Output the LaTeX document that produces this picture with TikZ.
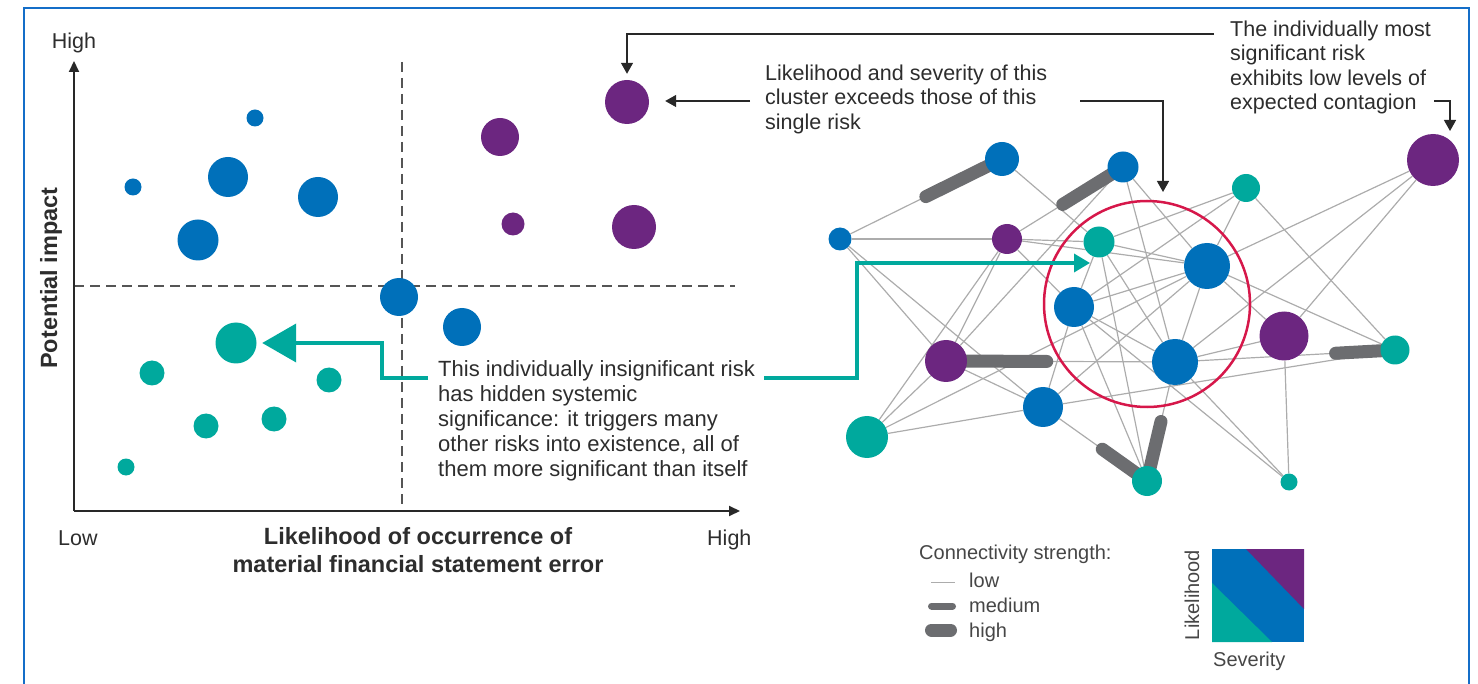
\documentclass[tikz,border=0pt]{standalone}
\usepackage{fontspec}
\setmainfont{Liberation Sans}
\usetikzlibrary{arrows.meta,calc}
\pgfdeclarelayer{bg}
\pgfsetlayers{bg,main}
\definecolor{nblue}{RGB}{0,112,186}
\definecolor{npurple}{RGB}{108,38,128}
\definecolor{nteal}{RGB}{0,169,157}
\definecolor{edgegray}{RGB}{172,172,172}
\definecolor{thickgray}{RGB}{108,109,112}
\definecolor{txtc}{RGB}{45,45,45}
\definecolor{legc}{RGB}{70,70,70}
\definecolor{arrowc}{RGB}{40,40,40}
\definecolor{framec}{RGB}{20,110,200}
\definecolor{ringc}{RGB}{214,23,74}
\definecolor{dashc}{RGB}{85,85,85}
\begin{document}
\begin{tikzpicture}[x=1pt,y=-1pt,
  nd/.style={circle,inner sep=0pt,minimum size=#1},
  cb/.style={nd=#1,fill=nblue},
  cp/.style={nd=#1,fill=npurple},
  ct/.style={nd=#1,fill=nteal},
  lowedge/.style={draw=edgegray,line width=1.2pt},
  highedge/.style={draw=thickgray,line width=13pt,line cap=round},
  medline/.style={draw=thickgray,line width=7pt,line cap=round},
  lbl/.style={font=\fontsize{21.5}{24.5}\selectfont,text=txtc,inner sep=0pt,align=left},
  notefont/.style={font=\fontsize{22}{25}\selectfont,text=txtc,inner sep=0pt,align=left},
  blbl/.style={font=\fontsize{23.5}{28}\selectfont\bfseries,text=txtc,inner sep=0pt},
  leg/.style={font=\fontsize{20}{24}\selectfont,text=legc,inner sep=0pt},
  axisline/.style={draw=arrowc,line width=2pt,-{Triangle[length=11pt,width=10pt]}},
  dashln/.style={draw=dashc,line width=1.5pt,dash pattern=on 10pt off 6pt},
  blackarrow/.style={draw=arrowc,line width=1.4pt,-{Triangle[length=11pt,width=12pt]}},
  tealline/.style={draw=nteal,line width=4pt}
]
\useasboundingbox (0,0) rectangle (1478,684);
% frame
\draw[framec,line width=2pt] (24,684) -- (24,8) -- (1469,8) -- (1469,684);

% ---------------- left chart ----------------
\coordinate (O) at (74,511);
\coordinate (Ytop) at (74,61);
\coordinate (Xend) at (740,511);
\coordinate (v1) at (402,62);
\coordinate (v2) at (402,511);
\coordinate (h1) at (74,286);
\coordinate (h2) at (735,286);
\draw[dashln] (v1) -- (v2);
\draw[dashln] (h1) -- (h2);
\draw[axisline] (O) -- (Ytop);
\draw[axisline] (O) -- (Xend);

\node[lbl,anchor=base] (yhigh) at (74,49) {High};
\node[lbl,anchor=base west] (xlow) at (58,545) {Low};
\node[lbl,anchor=base west] (xhigh) at (707,545) {High};
\node[blbl,anchor=north,align=center] (xlab) at (418,527) {Likelihood of occurrence of\\material financial statement error};
\node[blbl,anchor=base,rotate=90] (ylab) at (57,278) {Potential impact};

\node[cb=17pt] (b1) at (255,118) {};
\node[cb=17pt] (b2) at (133,187) {};
\node[cb=40pt] (b3) at (228,177) {};
\node[cb=40pt] (b4) at (318,197) {};
\node[cb=41pt] (b5) at (198,240) {};
\node[cb=38pt] (b6) at (399,297) {};
\node[cb=38pt] (b7) at (462,327) {};
\node[cp=44pt] (pA) at (627,102) {};
\node[cp=38pt] (p2) at (500,137) {};
\node[cp=23pt] (p3) at (513,224) {};
\node[cp=44pt] (p4) at (634,227) {};
\node[ct=41pt] (t1) at (236,343) {};
\node[ct=25pt] (t2) at (152,373) {};
\node[ct=25pt] (t3) at (329,380) {};
\node[ct=25pt] (t4) at (206,426) {};
\node[ct=25pt] (t5) at (274,419) {};
\node[ct=17pt] (t6) at (126,467) {};

\node[notefont,anchor=north west] (note) at (438,360) {This individually insignificant risk\\has hidden systemic\\significance: it triggers many\\other risks into existence, all of\\them more significant than itself};

\coordinate (ta) at (428,378);
\draw[tealline,-{Triangle[length=34pt,width=38pt]},shorten >=5.5pt] (ta) -- (382,378) |- (t1.east);

% ---------------- network ----------------
\node[cb=34pt] (A) at (1002,159) {};
\node[cb=31pt] (B) at (1123,167) {};
\node[cb=23pt] (C) at (840,239) {};
\node[cp=30pt] (D) at (1007,239) {};
\node[ct=31pt] (E) at (1099,242) {};
\node[cb=46pt] (F) at (1207,266) {};
\node[cb=40pt] (G) at (1074,307) {};
\node[cp=42pt] (H) at (946,361) {};
\node[cb=46pt] (I) at (1175,362) {};
\node[cb=40pt] (J) at (1043,407) {};
\node[ct=42pt] (K) at (867,437) {};
\node[ct=30pt] (L) at (1147,481) {};
\node[ct=28pt] (M) at (1246,188) {};
\node[cp=52pt] (P) at (1433,160) {};
\node[cp=49pt] (Q) at (1284,336) {};
\node[ct=29pt] (R) at (1395,350) {};
\node[ct=17pt] (S) at (1289,482) {};

\begin{pgfonlayer}{bg}
\foreach \a/\b in {C/A,C/D,C/H,C/J,A/E,B/D,B/F,B/I,B/H,D/E,D/F,D/H,D/K,D/G,
  E/M,E/F,E/G,E/I,E/L,M/G,M/F,M/R,F/I,F/R,F/Q,F/P,F/K,F/J,G/F,G/J,G/L,G/I,G/S,
  H/I,H/J,H/K,I/Q,I/R,I/P,I/S,I/L,J/K,J/R,J/L,Q/P,Q/S}
  \draw[lowedge] (\a) -- (\b);
\draw[highedge] (A.center) -- ($(A)!0.47!(C)$);
\draw[highedge] (B.center) -- ($(B)!0.52!(D)$);
\draw[highedge] (H.center) -- ($(H)!0.44!(I)$);
\draw[highedge] (R.center) -- ($(R)!0.27!(I)$);
\draw[highedge] (L.center) -- ($(L)!0.43!(J)$);
\draw[highedge] (L.center) -- ($(L)!0.5!(I)$);
\node[draw=ringc,line width=2.5pt,circle,inner sep=0pt,minimum size=206pt] (ring) at (1147,304) {};
\end{pgfonlayer}

\coordinate (tb) at (764,378);
\coordinate (tc) at (1090,263);
\draw[tealline,line width=3.5pt,-{Triangle[length=16pt,width=18pt]}] (tb) -- (857,378) |- (tc);

% ---------------- annotations ----------------
\node[lbl,anchor=north west] (cl) at (765,64.6) {Likelihood and severity of this\\cluster exceeds those of this\\single risk};
\node[lbl,anchor=north west] (ms) at (1230,20.6) {The individually most\\significant risk\\exhibits low levels of\\expected contagion};

\coordinate (s1) at (1214,34);
\draw[blackarrow,shorten >=6pt] (s1) -| (pA.north);
\coordinate (s2) at (750,101);
\draw[blackarrow,shorten >=16pt] (s2) -- (pA.east|-s2);
\coordinate (s3) at (1080,101);
\coordinate (e3) at (1163,192);
\draw[blackarrow] (s3) -| (e3);
\coordinate (s4) at (1434,101);
\coordinate (e4) at (1450,131);
\draw[blackarrow] (s4) -| (e4);

% ---------------- legend ----------------
\node[leg,anchor=base west] (cs) at (919,559) {Connectivity strength:};
\coordinate (l1a) at (931,582);
\coordinate (l1b) at (955,582);
\draw[lowedge,line width=1pt] (l1a) -- (l1b);
\node[leg,anchor=base west] (llow) at (969,587) {low};
\coordinate (l2a) at (931.5,606);
\coordinate (l2b) at (952.5,606);
\draw[medline] (l2a) -- (l2b);
\node[leg,anchor=base west] (lmed) at (969,612) {medium};
\coordinate (l3a) at (931.5,630);
\coordinate (l3b) at (950.5,630);
\draw[highedge] (l3a) -- (l3b);
\node[leg,anchor=base west] (lhigh) at (969,637) {high};

\fill[nblue] (1212,549) rectangle (1304,642);
\fill[npurple] (1246,549) -- (1304,549) -- (1304,609) -- cycle;
\fill[nteal] (1212,583) -- (1212,642) -- (1272,642) -- cycle;
\node[leg,anchor=base,rotate=90] (llik) at (1199,595) {Likelihood};
\node[leg,anchor=base west] (lsev) at (1213,666) {Severity};
\end{tikzpicture}
\end{document}
